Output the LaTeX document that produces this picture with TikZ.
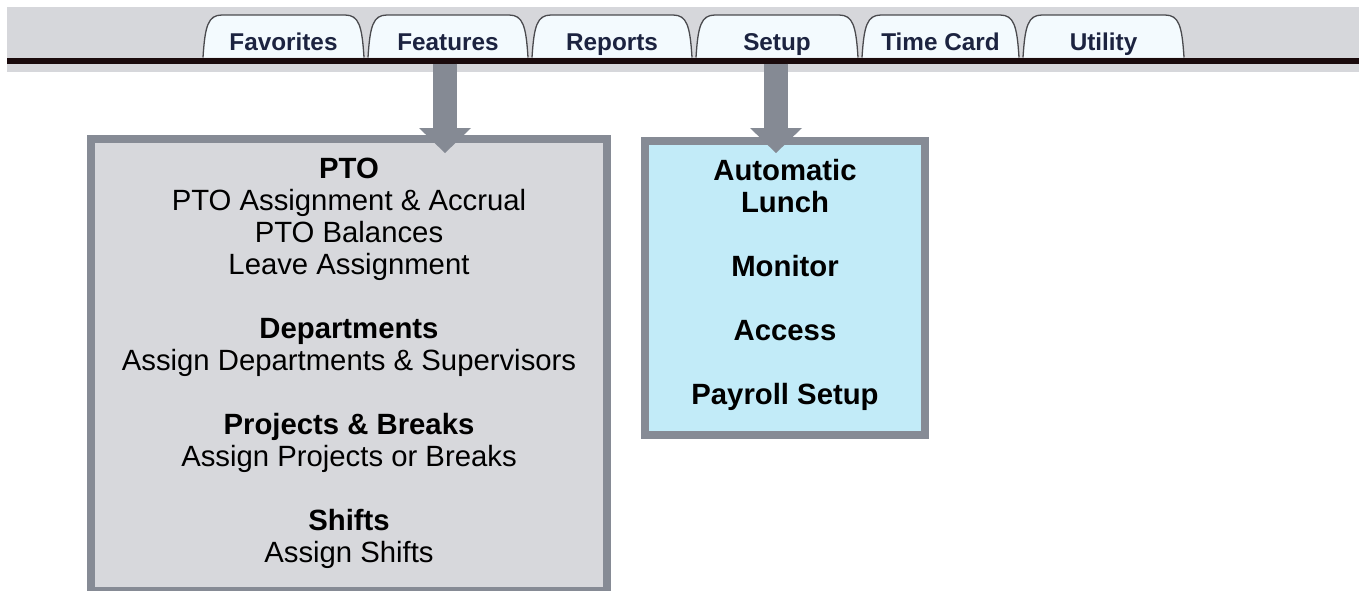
\documentclass[tikz,border=0pt]{standalone}
\usepackage{fontspec}
\setmainfont{Liberation Sans}
\usetikzlibrary{arrows.meta}
\definecolor{bandgray}{HTML}{D6D7DB}
\definecolor{barcolor}{HTML}{1A0A0C}
\definecolor{tabfill}{HTML}{F3FAFE}
\definecolor{tabline}{HTML}{4A4A4E}
\definecolor{tabtext}{HTML}{1C2340}
\definecolor{boxline}{HTML}{868B95}
\definecolor{featfill}{HTML}{D7D8DC}
\definecolor{setupfill}{HTML}{C2EBF8}
\definecolor{arrowgray}{HTML}{858A94}
\begin{document}
\begin{tikzpicture}[x=1pt,y=-1pt,
  tabshape/.style={fill=tabfill,draw=tabline,line width=1.3pt},
  tablabel/.style={anchor=base,inner sep=0pt,text=tabtext,font=\fontsize{24.3}{28}\selectfont\bfseries},
  menubox/.style={draw=boxline,line width=8pt,inner sep=0pt},
  boxtext/.style={anchor=north,inner sep=0pt,align=center,text=black,font=\fontsize{29.3}{32}\selectfont},
  blockarrow/.style={draw=arrowgray,line width=24pt,-{Triangle[length=25pt,width=52pt,line width=0pt]}}]
\useasboundingbox (0,0) rectangle (1359,590);
\fill[white] (0,0) rectangle (1359,590);
% menu band
\fill[bandgray] (7,7) rectangle (1359,72);
\foreach \L/\R in {201/366,366/530,530/694,694/860,860/1021,1021/1186}{
  \filldraw[tabshape] ({\L+2},57.5) .. controls ({\L+4},26) and ({\L+7},15) .. ({\L+21},15)
     -- ({\R-21},15) .. controls ({\R-7},15) and ({\R-4},26) .. ({\R-2},57.5);
}
\fill[barcolor] (7,58) rectangle (1359,63.5);
% tab labels
\node[tablabel] (tFav)  at (283.5,50) {Favorites};
\node[tablabel] (tFeat) at (448,50)   {Features};
\node[tablabel] (tRep)  at (612,50)   {Reports};
\node[tablabel] (tSet)  at (777,50)   {Setup};
\node[tablabel] (tTime) at (940.5,50) {Time Card};
\node[tablabel] (tUtil) at (1103.5,50){Utility};
% boxes
\node[menubox,fill=featfill,minimum width=516pt,minimum height=452pt] (boxF) at (349,365) {};
\node[menubox,fill=setupfill,minimum width=280pt,minimum height=294pt] (boxS) at (785,288) {};
% box texts
\node[boxtext] (txtF) at (349,154) {\rule{0pt}{24pt}\textbf{PTO}\\
  PTO Assignment \& Accrual\\
  PTO Balances\\
  Leave Assignment\\[32pt]
  \textbf{Departments}\\
  Assign Departments \& Supervisors\\[32pt]
  \textbf{Projects \& Breaks}\\
  Assign Projects or Breaks\\[32pt]
  \textbf{Shifts}\\
  Assign Shifts};
\node[boxtext,font=\fontsize{29.3}{32}\selectfont\bfseries] (txtS) at (785,156) {\rule{0pt}{24pt}Automatic\\
  Lunch\\[32pt]
  Monitor\\[32pt]
  Access\\[32pt]
  Payroll Setup};
% arrows
\coordinate (fA) at (445,63.5);
\coordinate (fB) at (445,153);
\coordinate (sA) at (776,63.5);
\coordinate (sB) at (776,153);
\draw[blockarrow] (fA) -- (fB);
\draw[blockarrow] (sA) -- (sB);
\end{tikzpicture}
\end{document}
